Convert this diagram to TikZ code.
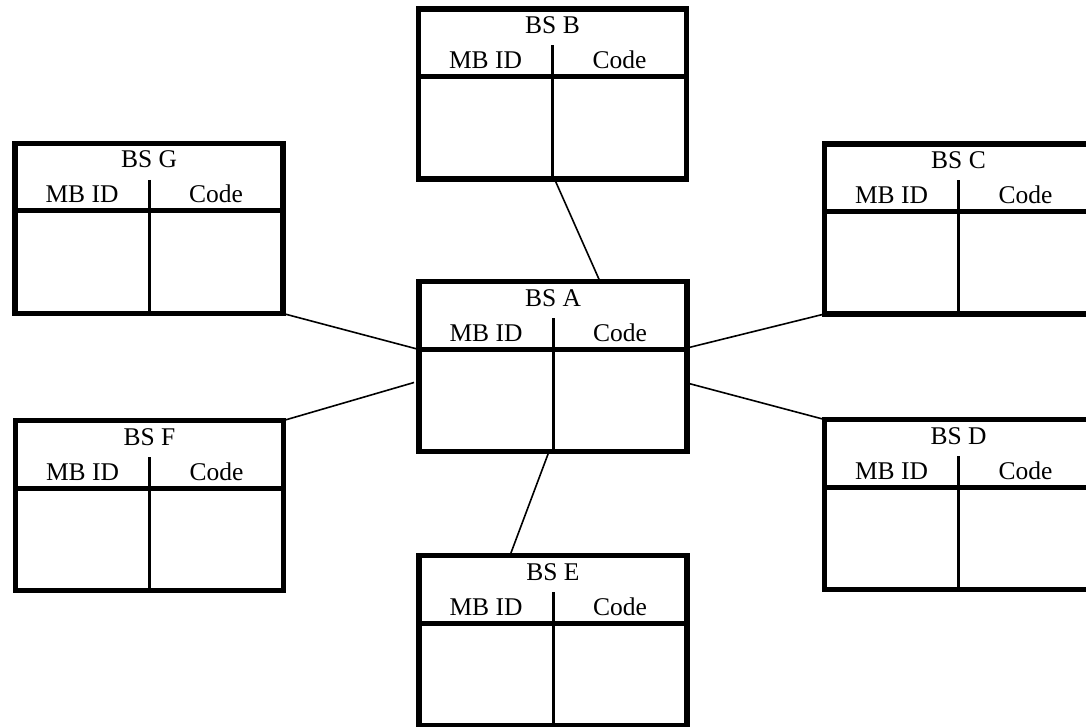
\documentclass[tikz,border=0pt]{standalone}
\usepackage{fontspec}
\setmainfont{Liberation Serif}
\tikzset{
  bsbox/.style={draw, line width=5.5pt, minimum width=268pt, minimum height=170pt,
                inner sep=0pt, outer sep=0pt},
  headrule/.style={line width=5pt},
  divider/.style={line width=3pt},
  link/.style={line width=1.6pt},
  lbl/.style={font=\fontsize{25.5}{25.5}\selectfont, anchor=base, inner sep=0pt}
}
% one base-station table: name, centre, letter
\newcommand\bsbox[3]{%
  \node[bsbox] (#1) at (#2) {};
  \draw[headrule] ([yshift=-67.5pt]#1.north west) -- ([yshift=-67.5pt]#1.north east);
  \draw[divider] ([yshift=-36.5pt]#1.north) -- (#1.south);
  \node[lbl] (#1-t) at ([yshift=-24.5pt]#1.north) {BS #3};
  \node[lbl] (#1-l) at ([xshift=-67pt,yshift=-59.5pt]#1.north) {MB ID};
  \node[lbl] (#1-r) at ([xshift=67pt,yshift=-59.5pt]#1.north) {Code};
}
\begin{document}
\begin{tikzpicture}[x=1pt,y=-1pt]
  \useasboundingbox (0,0) rectangle (1086,727);

  \bsbox{A}{553,366.5}{A}
  \bsbox{B}{552.5,94}{B}
  \bsbox{C}{958.5,229}{C}
  \bsbox{D}{958.5,504.5}{D}
  \bsbox{E}{553,640.5}{E}
  \bsbox{F}{149.5,505.5}{F}
  \bsbox{G}{149,228.5}{G}

  % links from the neighbouring stations to BS A
  \draw[link] ([xshift=2pt]B.south) -- ([xshift=47pt]A.north);
  \draw[link] (G.south east) -- ([yshift=17pt]A.west);
  \draw[link] (F.north east) -- ([xshift=-5pt,yshift=-16pt]A.west);
  \draw[link] ([yshift=18.5pt]A.east) -- (C.south west);
  \draw[link] ([yshift=-16.5pt]A.east) -- (D.north west);
  \draw[link] ([xshift=-4pt]A.south) -- ([xshift=-43pt]E.north);
\end{tikzpicture}
\end{document}
